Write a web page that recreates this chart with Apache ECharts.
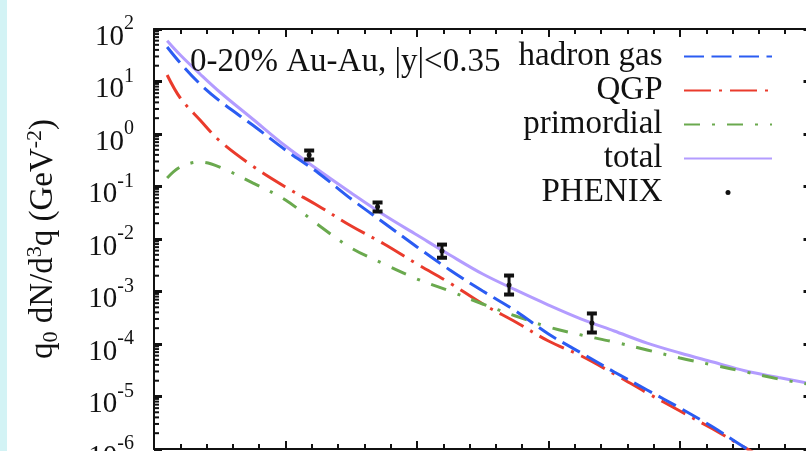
<!DOCTYPE html>
<html>
<head>
<meta charset="utf-8">
<script src="https://cdn.jsdelivr.net/npm/echarts@6/dist/echarts.min.js"></script>
<style>
  html, body { margin: 0; padding: 0; background: #ffffff; }
  #chart { width: 806px; height: 451px; }
</style>
</head>
<body>
<div id="chart"></div>
<script>
// Photon transverse momentum grid (GeV)
const qT = [0.1, 0.2, 0.35, 0.5, 0.75, 1.0, 1.25, 1.5, 1.75, 2.0, 2.25, 2.5, 2.75, 3.0, 3.25, 3.5, 3.75, 4.0, 4.25, 4.5, 4.75, 5.0];

// Invariant yields q0 dN/d^3q (GeV^-2) for each source
const hadronGas = [45.4, 22.5, 8.96, 4.25, 1.48, 0.495, 0.181, 0.0578, 0.0202, 0.00705, 0.00257, 0.00102, 4.26e-4, 1.55e-4, 6.74e-5, 2.93e-5, 1.33e-5, 6.04e-6, 2.62e-6, 1.04e-6, 4.74e-7, 2.15e-7];
const qgp = [13.3, 4.85, 1.85, 0.736, 0.245, 0.0977, 0.0426, 0.0177, 0.00803, 0.00334, 0.00145, 5.78e-4, 2.62e-4, 1.14e-4, 5.90e-5, 2.68e-5, 1.17e-5, 5.30e-6, 2.40e-6, 1.04e-6, 4.54e-7, 2.1e-7];
const primordial = [0.145, 0.235, 0.293, 0.235, 0.117, 0.0553, 0.0185, 0.00674, 0.00334, 0.00173, 0.00102, 5.78e-4, 3.41e-4, 2.11e-4, 1.48e-4, 1.09e-4, 7.69e-5, 5.41e-5, 3.98e-5, 2.93e-5, 2.15e-5, 1.68e-5];
const total = [60, 32, 13.9, 6.31, 1.93, 0.59, 0.206, 0.0752, 0.0286, 0.0119, 0.00496, 0.00215, 0.00107, 5.53e-4, 2.99e-4, 1.77e-4, 1.04e-4, 6.74e-5, 4.54e-5, 3.06e-5, 2.3e-5, 1.75e-5];

// PHENIX direct photons: qT, yield, lower and upper error bounds
const phenixQ = [1.18, 1.70, 2.19, 2.70, 3.33];
const phenixY = [0.40, 0.041, 0.0059, 0.00133, 2.5e-4];
const phenixLo = [0.32, 0.0327, 0.0043, 8.57e-4, 1.62e-4];
const phenixHi = [0.495, 0.0507, 0.008, 0.00206, 3.9e-4];

// Axis ranges
const xMin = 0, xMax = 5, xStep = 1;
const yMin = 1e-6, yMax = 1e2;
const minorLog = [];
for (let e = -6; e < 2; e++) {
  for (let m = 2; m <= 9; m++) minorLog.push(m * Math.pow(10, e));
}

const serif = 'Liberation Serif';
const ink = '#111111';
const pair = (xs, ys) => xs.map((x, i) => [x, ys[i]]);

const chart = echarts.init(document.getElementById('chart'), null, { renderer: 'canvas' });

const xAxisBase = {
  type: 'value', min: xMin, max: xMax, interval: xStep,
  axisLine: { show: true, onZero: false, lineStyle: { color: ink, width: 2 } },
  axisTick: { show: true, inside: true, length: 8, lineStyle: { color: ink, width: 2 } },
  minorTick: { show: true, splitNumber: 5, length: 5, lineStyle: { color: ink, width: 2 } },
  axisLabel: { show: false },
  splitLine: { show: false }
};

const yAxisBase = {
  type: 'log', logBase: 10, min: yMin, max: yMax,
  axisLine: { show: true, onZero: false, lineStyle: { color: ink, width: 2 } },
  axisTick: { show: true, inside: true, length: 8, lineStyle: { color: ink, width: 3 } },
  minorTick: { show: false },
  splitLine: { show: false }
};

const hidden = { opacity: 0 };

chart.setOption({
  animation: false,
  backgroundColor: '#ffffff',
  graphic: [
    { type: 'rect', left: 0, top: 0, shape: { width: 7, height: 451 }, style: { fill: '#d3f3f5' }, z: 100 }
  ],
  title: {
    text: '0-20% Au-Au, |y|<0.35',
    left: 185, top: 41,
    textStyle: { fontFamily: serif, fontSize: 33, fontWeight: 'normal', color: ink }
  },
  legend: {
    orient: 'vertical', align: 'right',
    right: 28, top: 35,
    itemWidth: 88, itemHeight: 14, itemGap: 1,
    formatter: name => name + '  ',
    textStyle: { fontFamily: serif, fontSize: 33, color: ink },
    data: [
      { name: 'hadron gas', itemStyle: hidden },
      { name: 'QGP', itemStyle: hidden },
      { name: 'primordial', itemStyle: hidden },
      { name: 'total', itemStyle: hidden },
      { name: 'PHENIX', icon: 'path://M0,0M88,14M41.5,7a2.5,2.5 0 1,0 5,0a2.5,2.5 0 1,0 -5,0z', itemStyle: { color: ink } }
    ]
  },
  grid: { left: 154, top: 29, width: 657.5, height: 420, containLabel: false, outerBoundsMode: 'none' },
  xAxis: [
    Object.assign({}, xAxisBase, { position: 'bottom' }),
    Object.assign({}, xAxisBase, { position: 'top' })
  ],
  yAxis: [
    Object.assign({}, yAxisBase, {
      position: 'left',
      name: '{t|q}{sub|0}{t| dN/d}{sup|3}{t|q (GeV}{sup|-2}{t|)}',
      nameLocation: 'middle', nameRotate: 90, nameGap: 92,
      nameTextStyle: {
        rich: {
          t: { fontFamily: serif, fontSize: 33, color: ink },
          sub: { fontFamily: serif, fontSize: 22, color: ink, padding: [16, 0, 0, 0] },
          sup: { fontFamily: serif, fontSize: 22, color: ink, padding: [0, 0, 16, 0] }
        }
      },
      axisLabel: {
        show: true, margin: 20,
        formatter: v => '{b|10}{s|' + Math.round(Math.log10(v)) + '}',
        rich: {
          b: { fontFamily: serif, fontSize: 29, color: ink, padding: [16, 0, 0, 0] },
          s: { fontFamily: serif, fontSize: 20, color: ink, padding: [0, 0, 10, 0] }
        }
      }
    }),
    Object.assign({}, yAxisBase, { position: 'right', axisLabel: { show: false } })
  ],
  series: [
    {
      name: 'hadron gas', type: 'line', data: pair(qT, hadronGas), symbol: 'none', smooth: 0.35,
      lineStyle: { color: '#2b5cf2', width: 3, type: [20, 7.5] }, itemStyle: { color: '#2b5cf2' }, z: 4
    },
    {
      name: 'QGP', type: 'line', data: pair(qT, qgp), symbol: 'none', smooth: 0.35,
      lineStyle: { color: '#ea3b2c', width: 3, type: [27, 8, 3, 8] }, itemStyle: { color: '#ea3b2c' }, z: 3
    },
    {
      name: 'primordial', type: 'line', data: pair(qT, primordial), symbol: 'none', smooth: 0.35,
      lineStyle: { color: '#6aa94e', width: 3, type: [16, 12, 3, 12] }, itemStyle: { color: '#6aa94e' }, z: 3
    },
    {
      name: 'total', type: 'line', data: pair(qT, total), symbol: 'none', smooth: 0.35,
      lineStyle: { color: '#b39cff', width: 3, type: 'solid' }, itemStyle: { color: '#b39cff' }, z: 2
    },
    {
      name: 'PHENIX', type: 'custom', z: 6,
      data: phenixQ.map((q, i) => [q, phenixY[i], phenixLo[i], phenixHi[i]]),
      encode: { x: 0, y: 1 },
      itemStyle: { color: ink },
      renderItem: (params, api) => {
        const c = api.coord([api.value(0), api.value(1)]);
        const lo = api.coord([api.value(0), api.value(2)]);
        const hi = api.coord([api.value(0), api.value(3)]);
        return {
          type: 'group',
          children: [
            { type: 'line', shape: { x1: c[0], y1: lo[1], x2: c[0], y2: hi[1] }, style: { stroke: ink, lineWidth: 3 } },
            { type: 'rect', shape: { x: c[0] - 5, y: hi[1] - 1.5, width: 10, height: 4 }, style: { fill: ink } },
            { type: 'rect', shape: { x: c[0] - 5, y: lo[1] - 2.5, width: 10, height: 4 }, style: { fill: ink } },
            { type: 'circle', shape: { cx: c[0], cy: c[1], r: 2.5 }, style: { fill: ink } }
          ]
        };
      }
    },
    {
      // logarithmic minor ticks on both vertical frame edges
      name: 'minor-ticks', type: 'custom', silent: true, z: 7,
      data: minorLog.map(v => [xMin, v]),
      encode: { x: 0, y: 1 },
      renderItem: (params, api) => {
        const l = api.coord([xMin, api.value(1)]);
        const r = api.coord([xMax, api.value(1)]);
        const st = { stroke: ink, lineWidth: 2 };
        return {
          type: 'group',
          children: [
            { type: 'line', shape: { x1: l[0], y1: l[1], x2: l[0] + 5, y2: l[1] }, style: st },
            { type: 'line', shape: { x1: r[0] - 5, y1: r[1], x2: r[0], y2: r[1] }, style: st }
          ]
        };
      }
    }
  ]
});
</script>
</body>
</html>
